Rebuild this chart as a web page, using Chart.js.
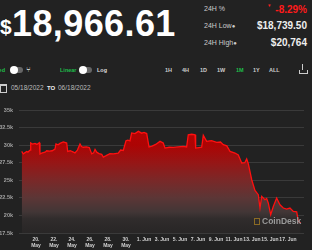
<!DOCTYPE html>
<html><head><meta charset="utf-8">
<script src="https://cdn.jsdelivr.net/npm/chart.js@4"></script>
<style>
html,body{margin:0;padding:0;background:#222222;width:312px;height:250px;overflow:hidden;font-family:"Liberation Sans",Arial,sans-serif;}
.a{position:absolute;white-space:nowrap;}
#c{position:absolute;left:0;top:100px;}
.tog{position:absolute;height:6px;width:12px;border-radius:3px;background:#666;}
.tog i{position:absolute;left:-1px;top:-1px;width:8px;height:8px;border-radius:4px;background:#fff;}
.btn{position:absolute;white-space:nowrap;font-size:5.5px;font-weight:bold;color:#ccc;line-height:7px;top:67px;}
</style></head><body>
<div class="a" style="left:0;top:16px;font-size:21px;font-weight:bold;color:#fff;line-height:21px;">$</div>
<div class="a" style="left:12px;top:6px;font-size:36px;font-weight:bold;color:#fff;line-height:36px;letter-spacing:0.4px;">18,966.61</div>

<div class="a" style="left:204px;top:5px;font-size:7px;color:#ccc;line-height:8px;">24H %</div>
<div class="a" style="left:268px;top:3px;font-size:5px;color:#ff2020;line-height:5px;">▾</div>
<div class="a" style="right:5px;top:4px;font-size:10px;font-weight:bold;color:#ff1a1a;line-height:11px;">-8.29%</div>

<div class="a" style="left:204px;top:22px;font-size:7px;color:#ccc;line-height:8px;">24H Low<span style="font-size:6px;">●</span></div>
<div class="a" style="right:5px;top:20px;font-size:10px;font-weight:bold;color:#eee;line-height:11px;">$18,739.50</div>

<div class="a" style="left:204px;top:39px;font-size:7px;color:#ccc;line-height:8px;">24H High<span style="font-size:6px;">●</span></div>
<div class="a" style="right:5px;top:37px;font-size:10px;font-weight:bold;color:#eee;line-height:11px;">$20,764</div>

<div class="btn" style="right:307px;color:#1fbf4a;">Filled</div>
<div class="tog" style="left:11px;top:67px;"><i></i></div>
<div class="a" style="left:26px;top:65px;font-size:8px;color:#ccc;line-height:9px;">⑂</div>
<div class="btn" style="left:60px;color:#1fbf4a;">Linear</div>
<div class="tog" style="left:80px;top:67px;"><i></i></div>
<div class="btn" style="left:97px;color:#ddd;">Log</div>

<div class="btn" style="left:165px;">1H</div>
<div class="btn" style="left:182px;">4H</div>
<div class="btn" style="left:200px;">1D</div>
<div class="btn" style="left:217px;">1W</div>
<div class="btn" style="left:236px;color:#1fbf4a;">1M</div>
<div class="btn" style="left:253px;">1Y</div>
<div class="btn" style="left:269px;">ALL</div>
<div class="a" style="left:299px;top:70px;width:7px;height:3px;border:1px solid #ccc;border-top:none;"></div>
<div class="a" style="left:302px;top:64px;width:1px;height:6px;background:#ccc;"></div>

<div class="a" style="left:0;top:84px;width:5px;height:6px;border:1px solid #ccc;border-top-width:2px;"></div>
<div class="a" style="left:11px;top:84px;font-size:6.5px;color:#bbb;line-height:8px;">05/18/2022</div>
<div class="a" style="left:47px;top:84px;font-size:6px;font-weight:bold;color:#eee;line-height:8px;">TO</div>
<div class="a" style="left:58px;top:84px;font-size:6.5px;color:#bbb;line-height:8px;">06/18/2022</div>

<canvas id="c" width="312" height="150"></canvas>

<div class="a" style="left:254px;top:218px;width:4px;height:5px;border:1px solid #8a6a24;"></div>
<div class="a" style="left:262px;top:216px;font-size:8.5px;font-weight:bold;color:#9a9a9a;line-height:10px;">CoinDesk</div>

<script>
// days since 05/18/2022 00:00
const times = [0.41,0.59,0.75,0.97,1.10,1.26,1.35,1.41,1.60,1.89,2.10,2.37,2.44,2.70,3.00,3.19,3.50,3.80,4.11,4.22,4.45,4.67,5.03,5.20,5.41,5.52,5.80,6.10,6.33,6.60,6.89,7.05,7.26,7.60,7.92,8.19,8.40,8.56,8.74,9.00,9.30,9.48,9.80,10.22,10.60,11.14,11.40,11.70,12.00,12.20,12.44,12.63,13.00,13.37,13.74,14.00,14.30,14.56,14.90,15.30,15.78,16.14,16.33,16.80,17.26,17.80,18.37,18.74,18.92,19.30,19.67,19.74,20.10,20.41,20.59,20.96,21.50,22.07,22.50,22.81,23.20,23.56,24.11,24.48,24.86,25.20,25.41,25.59,25.97,26.33,26.70,26.89,27.08,27.44,27.63,27.81,28.08,28.37,28.74,29.11,29.48,29.85,30.22,30.59,30.97,31.15,31.41];
const prices = [29100,28750,28900,29100,29000,29200,29300,30300,30150,30250,30100,30350,28750,28900,29000,29200,29150,29200,29450,30170,30050,30250,30450,30400,30300,29100,29200,29050,28900,29300,30170,29800,29700,29750,29650,28750,28900,29400,29000,28800,28700,28300,28500,28800,28750,28850,29300,29250,30630,30700,30600,31730,31650,31960,31700,31800,31650,29730,29850,30100,30540,30300,29590,29700,29680,29750,29820,29750,31480,31550,31480,29590,29650,29700,31390,30540,30650,30390,30450,30060,29900,29110,28880,28600,27460,27500,28030,27360,25080,23560,22950,21050,22710,22240,22400,21770,20100,21280,22480,21520,21050,20900,21050,20570,20500,19150,18920];
const tickDays = [2,4,6,8,10,12,14,16,18,20,22,24,26,28,30];
const tickLabels = [["20.","May"],["22.","May"],["24.","May"],["26.","May"],["28.","May"],["30.","May"],"1. Jun","3. Jun","5. Jun","7. Jun","9. Jun","11. Jun","13. Jun","15. Jun","17. Jun"];
const yTicks = [17500,20000,22500,25000,27500,30000,32500,35000];
const yTickLabels = ["17.5k","20k","22.5k","25k","27.5k","30k","32.5k","35k"];

const points = times.map((t,i)=>({x:t,y:prices[i]}));

function grad(ctx){
  const ch = ctx.chart; const ca = ch.chartArea; if(!ca) return 'rgba(170,0,0,0.8)';
  const ys = ch.scales.y;
  const g = ch.ctx.createLinearGradient(0, ca.top, 0, ca.bottom);
  const stop = (v,c)=>{ g.addColorStop(Math.min(1,Math.max(0,(ys.getPixelForValue(v)-ca.top)/(ca.bottom-ca.top))), c); };
  stop(35000,'rgb(190,0,0)');
  stop(30000,'rgb(172,4,4)');
  stop(27500,'rgb(150,22,22)');
  stop(25000,'rgb(122,40,40)');
  stop(22500,'rgb(92,54,54)');
  stop(20500,'rgb(66,54,54)');
  stop(19500,'rgb(48,44,44)');
  stop(17500,'rgb(40,38,38)');
  return g;
}

new Chart(document.getElementById('c'), {
  type:'line',
  data:{datasets:[{data:points,borderColor:'#ff1010',borderWidth:1.3,pointRadius:0,tension:0,fill:'start',backgroundColor:grad}]},
  options:{
    responsive:false,animation:false,
    layout:{padding:{top:10,right:8,left:0,bottom:0}},
    plugins:{legend:{display:false},tooltip:{enabled:false}},
    scales:{
      x:{type:'linear',min:0.111,max:31.78,
        afterBuildTicks:s=>{s.ticks=tickDays.map(v=>({value:v}));},
        afterFit:s=>{s.height=17;},
        grid:{display:false,drawTicks:false},border:{display:false},
        ticks:{autoSkip:false,maxRotation:0,padding:4,color:'#d0d0d0',font:{family:'Liberation Sans',size:5,weight:'bold',lineHeight:1.2},
          callback:(v)=>{const i=tickDays.indexOf(v);return i>=0?tickLabels[i]:'';}}},
      y:{min:17500,max:35000,
        afterBuildTicks:s=>{s.ticks=yTicks.map(v=>({value:v}));},
        afterFit:s=>{s.width=19;},
        grid:{color:'#3a3a3a',lineWidth:1,drawTicks:false},border:{display:false},
        ticks:{padding:6,color:'#a0a0a0',font:{family:'Liberation Sans',size:5.5,weight:'bold'},
          callback:(v)=>{const i=yTicks.indexOf(v);return i>=0?yTickLabels[i]:'';}}}
    }
  }
});
</script>
</body></html>
